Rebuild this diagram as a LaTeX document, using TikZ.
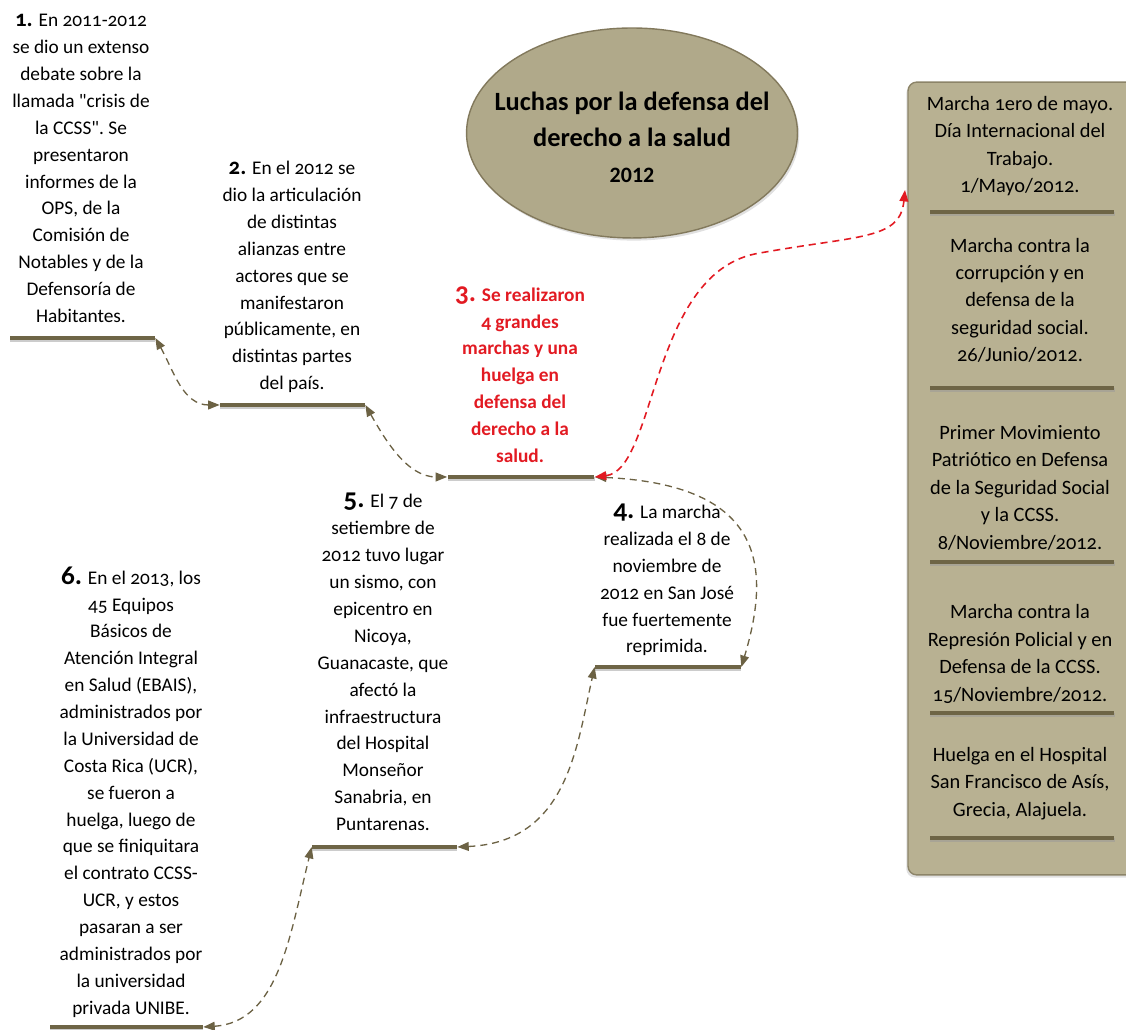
\documentclass[tikz,border=0pt]{standalone}
\usepackage{fontspec}
\setmainfont{Carlito}[Numbers=OldStyle]
\usetikzlibrary{arrows.meta,shapes.geometric,shadows}

\definecolor{barbrown}{RGB}{110,101,70}
\definecolor{linkbrown}{RGB}{108,98,68}
\definecolor{linkred}{RGB}{226,26,34}
\definecolor{ovalfill}{RGB}{176,169,138}
\definecolor{ovaldraw}{RGB}{130,121,92}
\definecolor{panelfill}{RGB}{184,177,146}
\definecolor{paneldraw}{RGB}{140,132,104}

% step numbers
\newcommand{\numsm}[1]{{\fontsize{13}{15}\selectfont\bfseries #1}}
\newcommand{\numbg}[1]{{\fontsize{15.5}{15}\selectfont\bfseries #1}}

\tikzset{
  bar/.style={rectangle, fill=barbrown, inner sep=0pt, minimum height=0.085cm,
    drop shadow={shadow xshift=0.2pt, shadow yshift=-1.2pt, fill=black!40, opacity=0.5}},
  txt/.style={align=center, inner sep=0pt, font=\fontsize{11}{15.3}\selectfont,
    execute at begin node=\strut, execute at end node=\strut},
  paneltxt/.style={txt, font=\fontsize{11.6}{15.6}\selectfont},
  link/.style={draw=linkbrown, line width=0.75pt, dash pattern=on 4pt off 2.8pt,
    >={Triangle[length=6.5pt,width=5pt]}, <->},
  redlink/.style={link, draw=linkred, line width=0.9pt},
  oval/.style={ellipse, fill=ovalfill, draw=ovaldraw, line width=0.8pt, inner sep=0pt,
    minimum width=6.62cm, minimum height=4.2cm,
    drop shadow={shadow xshift=1pt, shadow yshift=-1.5pt, fill=black!30, opacity=0.4}},
  titletxt/.style={align=center, inner sep=0pt, font=\fontsize{15}{20.5}\selectfont\bfseries},
  panel/.style={rectangle, rounded corners=5pt, fill=panelfill, draw=paneldraw,
    line width=0.8pt, minimum width=4.64cm, minimum height=15.86cm,
    drop shadow={shadow xshift=-1pt, shadow yshift=-1.5pt, fill=black!30, opacity=0.4}}
}

\begin{document}
\begin{tikzpicture}[x=0.02cm, y=0.02cm]
  \useasboundingbox (0,0) rectangle (1126,1030);

  % title and panel
  \node[oval] (ttl) at (632,897) {};
  \node[titletxt] (ttltxt) at (632,893) {Luchas por la defensa del\\derecho a la salud\\
    {\fontsize{12.5}{15}\selectfont\addfontfeatures{Numbers=Lining}2012}};
  \node[panel] (side) at (1024,551.5) {};

  % steps
  \node[bar, minimum width=2.9cm] (b1) at (82.5,692) {};
  \node[bar, minimum width=2.9cm] (b2) at (292.5,625) {};
  \node[bar, minimum width=2.94cm] (b3) at (521,553) {};
  \node[bar, minimum width=2.92cm] (b4) at (668,363) {};
  \node[bar, minimum width=2.9cm] (b5) at (384.5,183) {};
  \node[bar, minimum width=3.06cm] (b6) at (126.5,3) {};

  \node[txt] (t1) at (81,857.5) {\numsm{1.} En 2011-2012\\se dio un extenso\\debate sobre la\\llamada \textquotedbl crisis de\\la CCSS\textquotedbl. Se\\presentaron\\informes de la\\OPS, de la\\Comisión de\\Notables y de la\\Defensoría de\\Habitantes.};
  \node[txt] (t2) at (292,750.5) {\numsm{2.} En el 2012 se\\dio la articulación\\de distintas\\alianzas entre\\actores que se\\manifestaron\\públicamente, en\\distintas partes\\del país.};
  \node[txt, text=linkred, font=\fontsize{11}{15.3}\selectfont\bfseries] (t3) at (520,651.5) {\numbg{3.} Se realizaron\\4 grandes\\marchas y una\\huelga en\\defensa del\\derecho a la\\salud.};
  \node[txt] (t4) at (667,447.5) {\numbg{4.} La marcha\\realizada el 8 de\\noviembre de\\2012 en San José\\fue fuertemente\\reprimida.};
  \node[txt] (t5) at (383,364) {\numbg{5.} El 7 de\\setiembre de\\2012 tuvo lugar\\un sismo, con\\epicentro en\\Nicoya,\\Guanacaste, que\\afectó la\\infraestructura\\del Hospital\\Monseñor\\Sanabria, en\\Puntarenas.};
  \node[txt] (t6) at (131,235.5) {\numbg{6.} En el 2013, los\\45 Equipos\\Básicos de\\Atención Integral\\en Salud (EBAIS),\\administrados por\\la Universidad de\\Costa Rica (UCR),\\se fueron a\\huelga, luego de\\que se finiquitara\\el contrato CCSS-\\UCR, y estos\\pasaran a ser\\administrados por\\la universidad\\privada UNIBE.};

  % marches in the panel
  \foreach \i/\y in {1/818, 2/642, 3/468, 4/317, 5/192}
    \node[bar, minimum width=3.7cm] (sb\i) at (1022,\y) {};
  \node[paneltxt] (s1) at (1020,881.5) {Marcha 1ero de mayo.\\Día Internacional del\\Trabajo.\\1/Mayo/2012.};
  \node[paneltxt] (s2) at (1020,726) {Marcha contra la\\corrupción y en\\defensa de la\\seguridad social.\\26/Junio/2012.};
  \node[paneltxt] (s3) at (1020,538.5) {Primer Movimiento\\Patriótico en Defensa\\de la Seguridad Social\\y la CCSS.\\8/Noviembre/2012.};
  \node[paneltxt] (s4) at (1020,373) {Marcha contra la\\Represión Policial y en\\Defensa de la CCSS.\\15/Noviembre/2012.};
  \node[paneltxt] (s5) at (1020,244) {Huelga en el Hospital\\San Francisco de Asís,\\Grecia, Alajuela.};

  % connectors
  \coordinate (r1) at (760,777);
  \coordinate (p1) at (905,840);
  \draw[link] (b1.east) .. controls +(18,-32) and +(-37,0) .. (b2.west);
  \draw[link] (b2.east) .. controls +(20,-35) and +(-40,0) .. (b3.west);
  \draw[link] (b3.east) .. controls +(170,-8) and +(30,100) .. (b4.east);
  \draw[link] (b5.east) .. controls +(110,5) and +(-18,-80) .. (b4.west);
  \draw[link] (b6.east) .. controls +(75,5) and +(-22,-90) .. (b5.west);
  \draw[redlink] (b3.east) .. controls +(62,7) and +(-110,-17) .. (r1)
    .. controls +(100,18) and +(-5,-50) .. (p1);
\end{tikzpicture}
\end{document}
